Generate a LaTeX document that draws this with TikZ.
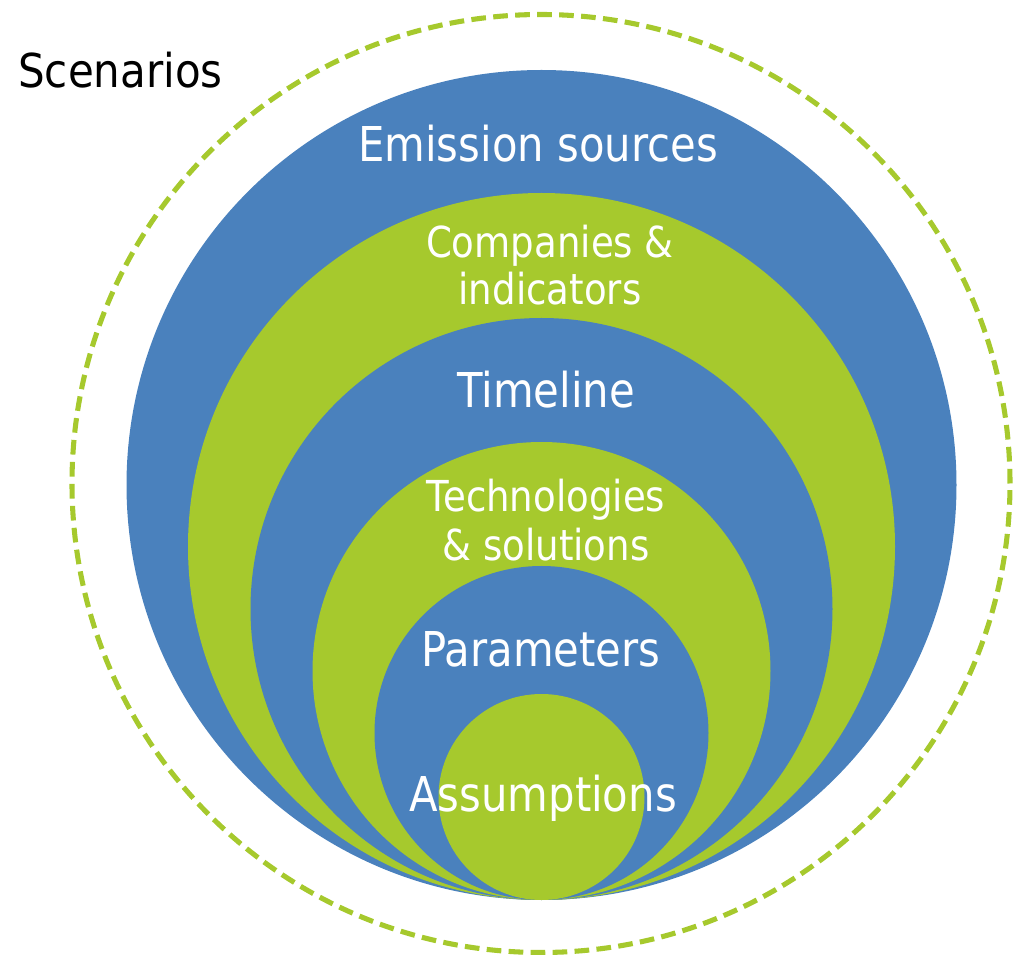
\documentclass[tikz,border=0pt]{standalone}
\usepackage{fontspec}
\newfontfamily\labelfont{DejaVu Sans}[FakeStretch=0.87]
\newfontfamily\titlefont{DejaVu Sans}[FakeStretch=0.9]
\definecolor{ringblue}{HTML}{4A81BD}
\definecolor{ringgreen}{HTML}{A6C92D}
\begin{document}
\begin{tikzpicture}[x=0.75pt,y=-0.75pt,
  ring/.style={circle, inner sep=0pt, draw=none},
  lbl/.style={anchor=base, text=white, inner sep=0pt, font=\labelfont\fontsize{36}{40}\selectfont},
  lblsmall/.style={lbl, font=\labelfont\fontsize{32}{38}\selectfont}]
\useasboundingbox (0,0) rectangle (1015,955);
\node[circle, inner sep=0pt, minimum size=938*0.75pt, draw=ringgreen, line width=3.8pt, dash pattern=on 11pt off 5.5pt] (outer) at (541,483.5) {};
\node[ring, fill=ringblue,  minimum size=830*0.75pt] (c1) at (541.5,485) {};
\node[ring, fill=ringgreen, minimum size=707*0.75pt] (c2) at (541.5,546.5) {};
\node[ring, fill=ringblue,  minimum size=582*0.75pt] (c3) at (541.5,609) {};
\node[ring, fill=ringgreen, minimum size=458*0.75pt] (c4) at (541.5,671) {};
\node[ring, fill=ringblue,  minimum size=334*0.75pt] (c5) at (541.5,733) {};
\node[ring, fill=ringgreen, minimum size=206*0.75pt] (c6) at (541.5,797) {};
\node[anchor=base west, inner sep=0pt, font=\titlefont\fontsize{35}{40}\selectfont] (scen) at (18,88) {Scenarios};
\node[lbl] (t1) at (538,162) {Emission sources};
\node[lblsmall] (t2a) at (550,258) {Companies \&};
\node[lblsmall] (t2b) at (550,305) {indicators};
\node[lbl] (t3) at (546,408) {Timeline};
\node[lblsmall] (t4a) at (546,512) {Technologies};
\node[lblsmall] (t4b) at (546,561) {\& solutions};
\node[lbl] (t5) at (541,667) {Parameters};
\node[lbl] (t6) at (543,811) {Assumptions};
\end{tikzpicture}
\end{document}
